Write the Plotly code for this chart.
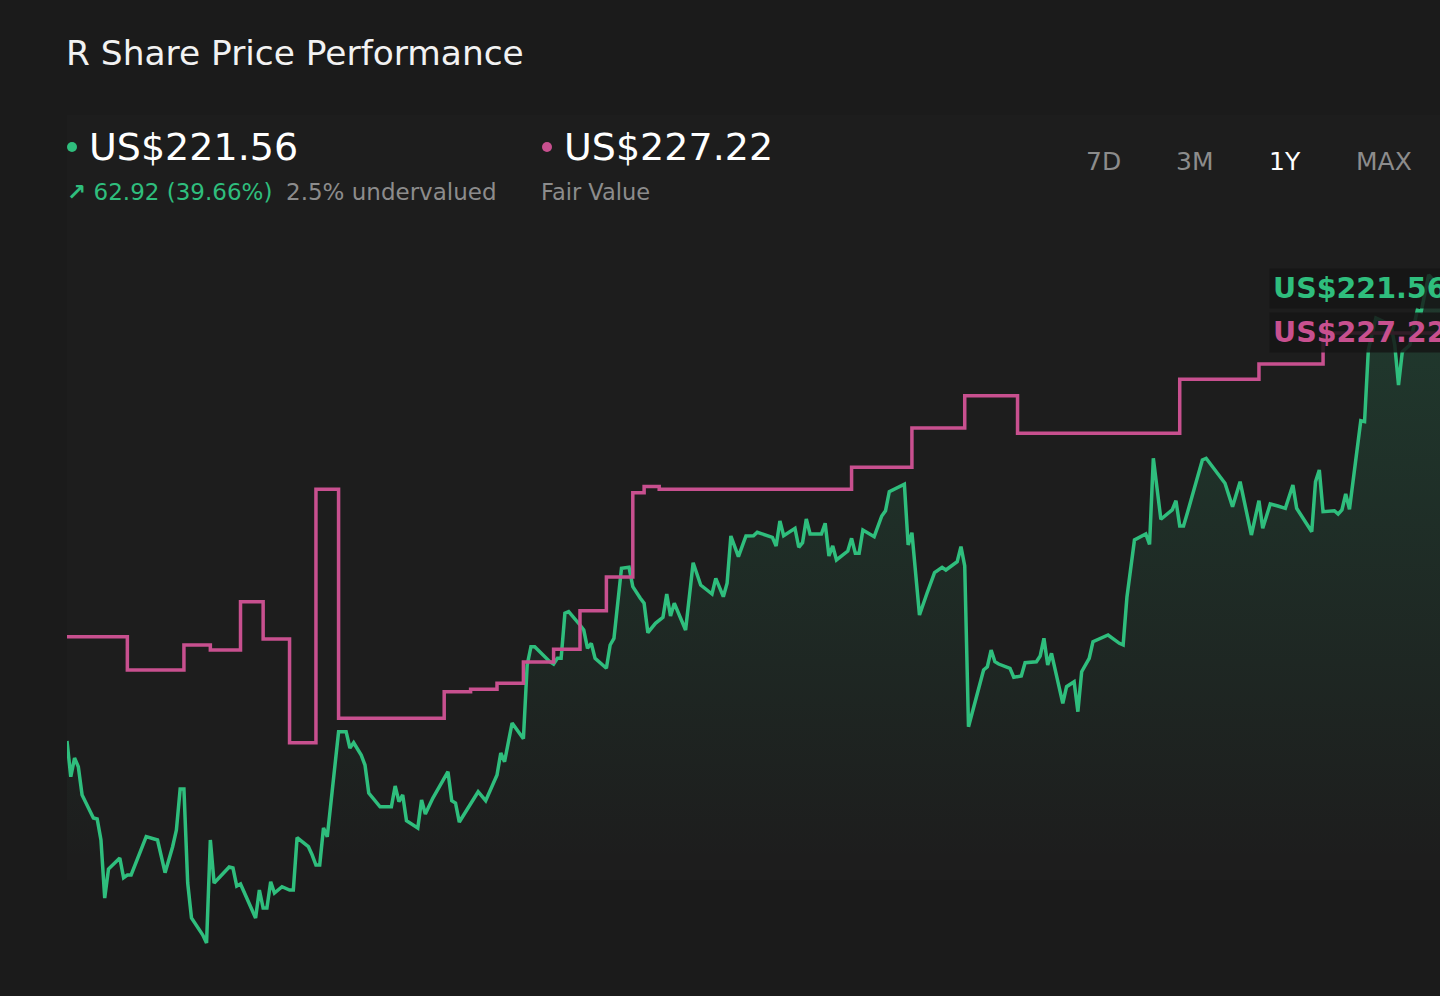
import pandas as pd
import plotly.graph_objects as go

# daily close (day offsets from start date)
price_days = [0, 1, 2, 3, 4, 7, 8, 9, 10, 11,
              14, 15, 16, 17, 21, 23, 24, 26, 28, 29,
              30, 31, 32, 33, 35, 36, 37, 38, 39, 43,
              44, 45, 46, 50, 51, 52, 53, 54, 55, 57,
              59, 60, 61, 64, 65, 66, 67, 68, 69, 72,
              74, 75, 76, 78, 79, 80, 83, 86, 87, 88,
              89, 90, 93, 94, 95, 97, 101, 102, 103, 104,
              109, 111, 114, 115, 116, 118, 121, 122, 123, 124,
              128, 129, 130, 131, 132, 133, 136, 137, 138, 139,
              140, 143, 144, 145, 147, 149, 150, 151, 152, 153,
              154, 156, 158, 159, 160, 161, 164, 166, 168, 171,
              172, 174, 175, 176, 178, 180, 182, 183, 187, 188,
              189, 190, 193, 194, 195, 196, 197, 200, 201, 202,
              203, 204, 207, 208, 209, 210, 211, 214, 216, 217,
              218, 222, 223, 224, 226, 228, 230, 232, 233, 236,
              237, 238, 239, 243, 244, 245, 246, 247, 250, 251,
              253, 254, 257, 258, 259, 260, 261, 264, 265, 267,
              268, 269, 271, 272, 276, 279, 280, 281, 283, 286,
              287, 288, 290, 293, 294, 295, 296, 297, 301, 302,
              305, 307, 309, 311, 314, 316, 317, 319, 321, 323,
              325, 326, 330, 331, 332, 333, 336, 337, 338, 339,
              340, 343, 344, 345, 347, 351, 352, 353, 354, 356,
              358, 359, 361, 364]
price = [158.64, 153.69, 156.28, 155.08, 151.16, 147.97, 147.83, 144.92, 136.88, 140.90,
         142.42, 139.69, 140.07, 140.07, 145.38, 145.06, 144.92, 140.39, 143.99, 146.30,
         151.99, 151.99, 138.96, 134.11, 132.44, 131.75, 130.64, 144.92, 138.96, 141.18,
         141.04, 138.54, 138.82, 134.11, 137.99, 135.49, 135.49, 139.14, 137.57, 138.45,
         137.99, 137.99, 145.24, 143.99, 142.84, 141.45, 141.45, 146.58, 145.38, 159.93,
         159.93, 157.67, 158.40, 156.70, 155.31, 151.43, 149.53, 149.53, 152.40, 150.23,
         151.16, 147.59, 146.58, 150.46, 148.52, 150.74, 154.39, 150.37, 150.05, 147.41,
         151.61, 150.37, 153.93, 156.98, 155.77, 161.13, 158.96, 169.17, 171.71, 171.71,
         169.63, 169.31, 170.10, 170.10, 176.34, 176.56, 174.72, 174.02, 171.49, 172.18,
         170.10, 168.72, 171.95, 172.87, 182.58, 182.72, 180.03, 179.11, 178.42, 177.73,
         173.65, 174.95, 175.78, 179.01, 175.97, 177.73, 174.02, 183.35, 180.26, 179.01,
         181.19, 178.64, 180.50, 187.05, 184.18, 187.05, 187.09, 187.57, 186.87, 185.67,
         189.13, 187.09, 188.12, 185.49, 186.12, 189.41, 187.33, 187.33, 188.81, 184.28,
         185.67, 183.73, 184.97, 186.73, 184.65, 184.65, 187.88, 186.96, 189.83, 190.56,
         193.19, 194.22, 185.81, 187.51, 176.10, 179.11, 181.97, 182.71, 182.34, 183.49,
         185.57, 182.90, 160.62, 168.48, 168.94, 171.25, 169.63, 169.31, 168.72, 167.47,
         167.65, 169.49, 169.63, 170.42, 172.87, 169.17, 170.80, 163.87, 166.17, 166.86,
         162.70, 168.24, 170.10, 172.40, 173.33, 172.18, 171.95, 178.56, 186.50, 187.33,
         185.90, 197.82, 189.37, 190.66, 191.95, 188.44, 188.44, 190.20, 197.59, 197.82,
         195.74, 194.36, 191.11, 194.58, 187.19, 191.95, 188.12, 191.49, 191.21, 190.89,
         194.12, 190.89, 187.65, 194.58, 196.20, 190.42, 190.56, 190.10, 190.66, 192.87,
         190.75, 203.03, 202.90, 212.83, 217.27, 216.30, 213.53, 207.98, 212.56, 213.53,
         218.38, 218.10, 223.23, 221.56]

# analyst fair value estimate, changes only on revision days
fv_days = [0, 16, 31, 38, 46, 52, 59, 66, 72, 100, 107, 114, 121, 129,
           136, 143, 150, 153, 157, 208, 224, 238, 252, 295, 316, 333, 364]
fv_values = [185.13, 180.51, 183.98, 183.29, 189.98, 184.81, 170.44, 205.56, 173.82,
             177.50, 177.84, 178.67, 181.62, 183.38, 188.73, 193.40, 205.09, 205.94,
             205.56, 208.61, 214.05, 218.53, 213.32, 220.80, 222.92, 227.22, 227.22]

periods = ["7D", "3M", "1Y", "MAX"]
active_period = "1Y"

start = pd.Timestamp("2024-06-14")
price_dates = start + pd.to_timedelta(price_days, unit="D")
fv_dates = start + pd.to_timedelta(fv_days, unit="D")

last_price = price[-1]
change = last_price - price[0]
change_pct = change / price[0] * 100
fair = fv_values[-1]
undervalued = (fair - last_price) / fair * 100

BG = "#1b1b1b"
GREEN = "#2fbe7d"
PINK = "#c8508f"
GREY = "#8c8c8c"
FONT = "DejaVu Sans"

W, H = 1440, 996
L, R, T, B = 67, 0, 230, 36


def px(x, y):
    # screen pixel -> paper coords
    return (x - L) / (W - L - R), (H - B - y) / (H - T - B)


fig = go.Figure()

fig.add_trace(go.Scatter(
    x=price_dates, y=price, mode="lines",
    line=dict(color=GREEN, width=3.5),
    fill="tozeroy",
    fillgradient=dict(type="vertical", start=142.0, stop=222.0,
                      colorscale=[[0, "rgba(47,190,125,0)"], [1, "rgba(47,190,125,0.18)"]]),
    hoverinfo="skip", showlegend=False,
))

fig.add_trace(go.Scatter(
    x=fv_dates, y=fv_values, mode="lines", yaxis="y2",
    line=dict(color=PINK, width=3.5, shape="hv"),
    hoverinfo="skip", showlegend=False,
))

ann = []


def text(x, y, s, size, color, anchor="left", bold=False, **kw):
    xp, yp = px(x, y)
    if bold:
        s = "<b>" + s + "</b>"
    ann.append(dict(x=xp, y=yp, xref="paper", yref="paper", text=s, showarrow=False,
                    xanchor=anchor, yanchor="middle",
                    font=dict(family=FONT, size=size, color=color), **kw))


text(64, 53, "R Share Price Performance", 34.4, "#f2f2f2")
text(87, 147, f"US${last_price:.2f}", 38, "#ffffff")
text(65, 192, f"<b>\u2197</b> {change:.2f} ({change_pct:.2f}%)", 23, GREEN)
text(284, 192, f"{undervalued:.1f}% undervalued", 23, GREY)
text(562, 147, f"US${fair:.2f}", 38, "#ffffff")
text(539, 192, "Fair Value", 22.5, GREY)

for name, cx in zip(periods, [1103, 1194, 1285, 1384]):
    text(cx, 162, name, 25, "#ffffff" if name == active_period else GREY, anchor="center")

text(1269, 288, f"US${last_price:.2f}", 28.5, GREEN, bold=True,
     bgcolor="rgba(21,21,21,0.8)", borderpad=3)
text(1269, 332, f"US${fair:.2f}", 28.5, PINK, bold=True,
     bgcolor="rgba(21,21,21,0.85)", borderpad=3)

shapes = []
x0, y0 = px(67, 880)
x1, y1 = px(W, 115)
shapes.append(dict(type="rect", xref="paper", yref="paper", x0=x0, y0=y0, x1=x1, y1=y1,
                   fillcolor="#1d1d1d", line=dict(width=0), layer="below"))
for cx, col in [(72, GREEN), (547, PINK)]:
    a0, b0 = px(cx - 5, 152)
    a1, b1 = px(cx + 5, 142)
    shapes.append(dict(type="circle", xref="paper", yref="paper", x0=a0, y0=b0, x1=a1, y1=b1,
                       fillcolor=col, line=dict(width=0)))

fig.update_layout(
    width=W, height=H,
    margin=dict(l=L, r=R, t=T, b=B),
    paper_bgcolor=BG, plot_bgcolor="rgba(0,0,0,0)",
    xaxis=dict(visible=False, range=[start, start + pd.Timedelta(days=364)]),
    yaxis=dict(visible=False, range=[128.29, 229.46]),
    yaxis2=dict(visible=False, range=[140.32, 241.50], overlaying="y"),
    annotations=ann, shapes=shapes,
    showlegend=False,
)

fig.write_html("out.html", config={"displayModeBar": False},
               post_script="document.body.style.margin='0';"
                           "document.body.style.background='#1b1b1b';")
